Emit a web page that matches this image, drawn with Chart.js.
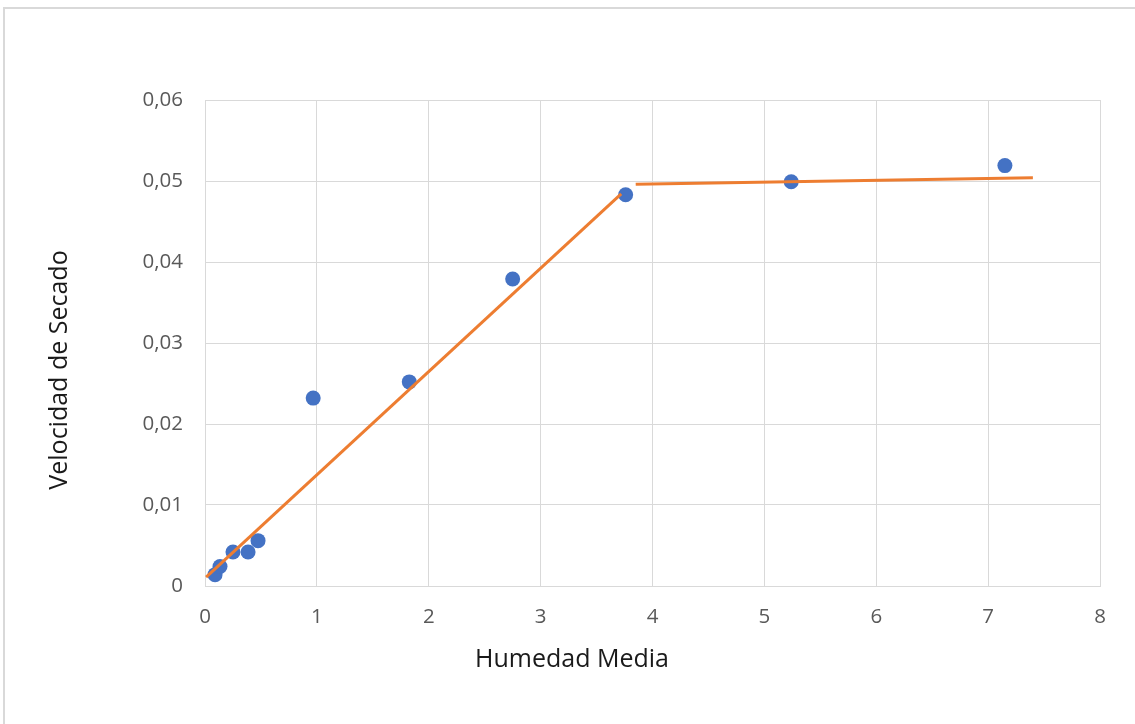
<!DOCTYPE html>
<html>
<head>
<meta charset="utf-8">
<script src="https://cdn.jsdelivr.net/npm/chart.js@4"></script>
<style>
  html, body { margin: 0; padding: 0; background: #fff; overflow: hidden; }
  #wrap { position: relative; width: 1135px; height: 724px; }
  #frame { position: absolute; left: 3px; top: 7px; width: 1200px; height: 800px;
           border-top: 2px solid #d9d9d9; border-left: 2px solid #d9d9d9; }
  #chartCanvas { position: absolute; left: 0; top: 0; }
</style>
</head>
<body>
<div id="wrap">
  <div id="frame"></div>
  <canvas id="chartCanvas" width="1135" height="724"></canvas>
</div>
<script>
// measured points (Humedad Media, Velocidad de Secado)
const humedad = [0.09, 0.134, 0.25, 0.385, 0.474, 0.967, 1.826, 2.75, 3.76, 5.24, 7.15];
const velocidad = [0.0014, 0.0024, 0.0042, 0.0042, 0.0056, 0.0232, 0.0252, 0.0379, 0.0483, 0.0499, 0.0519];

// two fitted segments
const tramo1X = [0.01, 3.72];
const tramo1Y = [0.0011, 0.0484];
const tramo2X = [3.85, 7.40];
const tramo2Y = [0.0496, 0.0504];

const xTicks = [0, 1, 2, 3, 4, 5, 6, 7, 8];
const yTicks = [0, 0.01, 0.02, 0.03, 0.04, 0.05, 0.06];
const yTickLabels = ['0', '0,01', '0,02', '0,03', '0,04', '0,05', '0,06'];

const xTitle = 'Humedad Media';
const yTitle = 'Velocidad de Secado';

document.addEventListener('DOMContentLoaded', () => {
    const ctx = document.getElementById('chartCanvas').getContext('2d');

    const toPoints = (xs, ys) => xs.map((x, i) => ({ x: x, y: ys[i] }));

    const gridColor = '#d9d9d9';
    const tickColor = '#595959';

    // Excel centres axis titles on the whole chart box, not on the plot area
    const axisTitles = {
        id: 'axisTitles',
        afterDraw(chart) {
            const c = chart.ctx;
            c.save();
            c.fillStyle = '#1a1a1a';
            c.font = '25px "Open Sans"';
            c.textAlign = 'center';
            c.textBaseline = 'middle';
            c.fillText(xTitle, 572, 660);
            c.translate(60, 370);
            c.rotate(-Math.PI / 2);
            c.fillText(yTitle, 0, 0);
            c.restore();
        }
    };

    new Chart(ctx, {
        type: 'scatter',
        data: {
            datasets: [
                {
                    label: 'Tramo 1',
                    data: toPoints(tramo1X, tramo1Y),
                    showLine: true,
                    borderColor: '#ED7D31',
                    borderWidth: 3,
                    pointRadius: 0,
                    pointHoverRadius: 0
                },
                {
                    label: 'Tramo 2',
                    data: toPoints(tramo2X, tramo2Y),
                    showLine: true,
                    borderColor: '#ED7D31',
                    borderWidth: 3,
                    pointRadius: 0,
                    pointHoverRadius: 0
                },
                {
                    label: 'Datos',
                    data: toPoints(humedad, velocidad),
                    backgroundColor: '#4472C4',
                    borderColor: '#4472C4',
                    pointRadius: 7.5,
                    borderWidth: 0
                }
            ]
        },
        options: {
            responsive: false,
            animation: false,
            layout: { padding: { left: 0, top: 100, right: 35, bottom: 0 } },
            plugins: {
                legend: { display: false },
                tooltip: { enabled: false }
            },
            scales: {
                x: {
                    type: 'linear',
                    min: 0,
                    max: 8,
                    afterFit: (scale) => { scale.height = 138; },
                    afterBuildTicks: (scale) => { scale.ticks = xTicks.map(v => ({ value: v })); },
                    grid: { color: gridColor, lineWidth: 1, drawTicks: false },
                    border: { color: gridColor, width: 1 },
                    ticks: {
                        padding: 19,
                        color: tickColor,
                        font: { family: 'Open Sans', size: 20.5 }
                    }
                },
                y: {
                    type: 'linear',
                    min: 0,
                    max: 0.06,
                    afterFit: (scale) => { scale.width = 205; },
                    afterBuildTicks: (scale) => { scale.ticks = yTicks.map(v => ({ value: v })); },
                    grid: { color: gridColor, lineWidth: 1, drawTicks: false },
                    border: { color: gridColor, width: 1 },
                    ticks: {
                        padding: 22,
                        color: tickColor,
                        font: { family: 'Open Sans', size: 20.5 },
                        callback: (value) => {
                            const i = yTicks.findIndex(t => Math.abs(t - value) < 1e-9);
                            return i >= 0 ? yTickLabels[i] : '';
                        }
                    }
                }
            }
        },
        plugins: [axisTitles]
    });
});
</script>
</body>
</html>
